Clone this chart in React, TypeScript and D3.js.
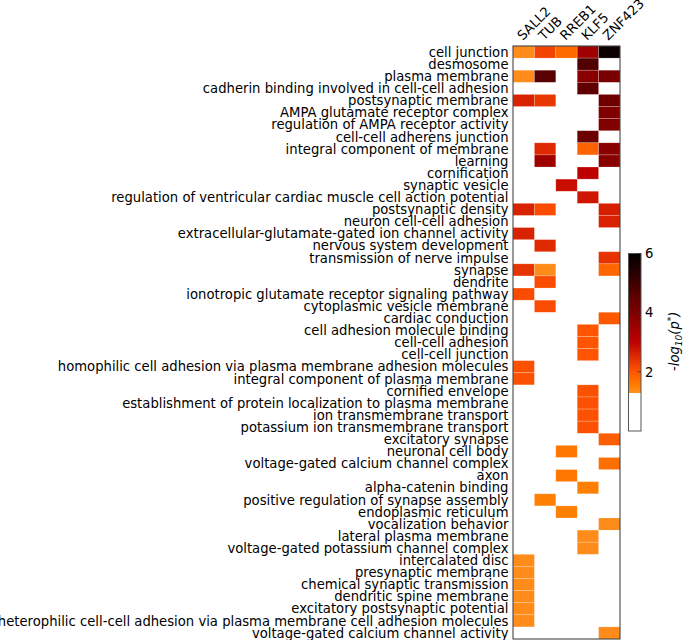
import React from "react";
import * as d3 from "d3";

const genes = ["SALL2", "TUB", "RREB1", "KLF5", "ZNF423"];

const terms = [
  "cell junction",
  "desmosome",
  "plasma membrane",
  "cadherin binding involved in cell-cell adhesion",
  "postsynaptic membrane",
  "AMPA glutamate receptor complex",
  "regulation of AMPA receptor activity",
  "cell-cell adherens junction",
  "integral component of membrane",
  "learning",
  "cornification",
  "synaptic vesicle",
  "regulation of ventricular cardiac muscle cell action potential",
  "postsynaptic density",
  "neuron cell-cell adhesion",
  "extracellular-glutamate-gated ion channel activity",
  "nervous system development",
  "transmission of nerve impulse",
  "synapse",
  "dendrite",
  "ionotropic glutamate receptor signaling pathway",
  "cytoplasmic vesicle membrane",
  "cardiac conduction",
  "cell adhesion molecule binding",
  "cell-cell adhesion",
  "cell-cell junction",
  "homophilic cell adhesion via plasma membrane adhesion molecules",
  "integral component of plasma membrane",
  "cornified envelope",
  "establishment of protein localization to plasma membrane",
  "ion transmembrane transport",
  "potassium ion transmembrane transport",
  "excitatory synapse",
  "neuronal cell body",
  "voltage-gated calcium channel complex",
  "axon",
  "alpha-catenin binding",
  "positive regulation of synapse assembly",
  "endoplasmic reticulum",
  "vocalization behavior",
  "lateral plasma membrane",
  "voltage-gated potassium channel complex",
  "intercalated disc",
  "presynaptic membrane",
  "chemical synaptic transmission",
  "dendritic spine membrane",
  "excitatory postsynaptic potential",
  "heterophilic cell-cell adhesion via plasma membrane cell adhesion molecules",
  "voltage-gated calcium channel activity",
];

// -log10(p*) per term (0 = not significant)
const sall2 = [1.35, 0, 1.35, 0, 2.6, 0, 0, 0, 0, 0, 0, 0, 0, 2.6, 0, 2.6, 0, 0, 2.4, 0, 2.1, 0, 0, 0, 0, 0, 2.05, 2.05, 0, 0, 0, 0, 0, 0, 0, 0, 0, 0, 0, 0, 0, 0, 1.35, 1.35, 1.35, 1.35, 1.35, 1.35, 0];
const tub = [2.2, 0, 4.6, 0, 2.35, 0, 0, 0, 2.5, 3.5, 0, 0, 0, 2.1, 0, 0, 2.5, 0, 1.35, 2.1, 0, 2.1, 0, 0, 0, 0, 0, 0, 0, 0, 0, 0, 0, 0, 0, 0, 0, 1.5, 0, 0, 0, 0, 0, 0, 0, 0, 0, 0, 0];
const rreb1 = [1.75, 0, 0, 0, 0, 0, 0, 0, 0, 0, 0, 2.85, 0, 0, 0, 0, 0, 0, 0, 0, 0, 0, 0, 0, 0, 0, 0, 0, 0, 0, 0, 0, 0, 1.6, 0, 1.6, 0, 0, 1.5, 0, 0, 0, 0, 0, 0, 0, 0, 0, 0];
const klf5 = [3.5, 4.75, 3.85, 4.5, 0, 0, 0, 4.3, 1.85, 0, 3.0, 0, 2.75, 0, 0, 0, 0, 0, 0, 0, 0, 0, 0, 2.0, 2.0, 2.0, 0, 0, 2.05, 2.05, 2.05, 2.05, 0, 0, 0, 0, 1.5, 0, 0, 0, 1.35, 1.35, 0, 0, 0, 0, 0, 0, 0];
const znf423 = [5.8, 0, 4.1, 0, 4.25, 4.0, 4.0, 0, 3.85, 3.85, 0, 0, 0, 2.65, 2.6, 0, 0, 2.4, 1.8, 0, 0, 0, 1.95, 0, 0, 0, 0, 0, 0, 0, 0, 0, 1.9, 0, 1.7, 0, 0, 0, 0, 1.35, 0, 0, 0, 0, 0, 0, 0, 0, 1.35];

const colorTicks = [2, 4, 6];

const series = [sall2, tub, rreb1, klf5, znf423];
const VMAX = 6;
const THRESH = 1.3;

function gistHeatR(v: number): string {
  const t = Math.max(0, Math.min(1, v / VMAX));
  const x = 1 - t;
  const r = Math.min(1, 1.5 * x);
  const g = Math.max(0, Math.min(1, 2 * x - 1));
  const b = Math.max(0, Math.min(1, 4 * x - 3));
  return d3.rgb(r * 255, g * 255, b * 255).formatHex();
}
function cellColor(v: number): string {
  return v < THRESH ? "#ffffff" : gistHeatR(v);
}

export default function App() {
  const W = 685;
  const H = 640;
  const left = 513;
  const right = 620;
  const top = 46;
  const bottom = 639;
  const FS = 13.2;
  const x = d3.scaleBand<string>().domain(genes).range([left, right]);
  const y = d3.scaleBand<string>().domain(terms).range([top, bottom]);

  const cbX0 = 628.5;
  const cbX1 = 641;
  const cy = d3.scaleLinear().domain([0, VMAX]).range([431, 253.5]);

  // gradient stops ordered from top (VMAX) to bottom (THRESH), then white
  const stops = d3.range(0, 41).map((i) => {
    const v = VMAX - ((VMAX - THRESH) * i) / 40;
    return { off: (VMAX - v) / VMAX, color: gistHeatR(v) };
  });
  const threshOff = (VMAX - THRESH) / VMAX;

  const font = "'DejaVu Sans', sans-serif";

  return (
    <svg
      width={W}
      height={H}
      style={{ position: "absolute", left: 0, top: 0, background: "#fff" }}
      fontFamily={font}
    >
      <defs>
        <linearGradient id="cbg" x1="0" y1="0" x2="0" y2="1">
          {stops.map((s, i) => (
            <stop key={i} offset={s.off} stopColor={s.color} />
          ))}
          <stop offset={threshOff} stopColor="#ffffff" />
          <stop offset={1} stopColor="#ffffff" />
        </linearGradient>
      </defs>
      <rect x={0} y={0} width={W} height={H} fill="#fff" />
      {series.map((vals, gi) =>
        vals.map((v, ti) =>
          v >= THRESH ? (
            <rect
              key={`${gi}-${ti}`}
              x={x(genes[gi])}
              y={y(terms[ti])}
              width={x.bandwidth()}
              height={y.bandwidth()}
              fill={cellColor(v)}
              stroke="#ffffff"
              strokeOpacity={0.35}
              strokeWidth={0.6}
            />
          ) : null
        )
      )}
      <rect
        x={left}
        y={top}
        width={right - left}
        height={bottom - top}
        fill="none"
        stroke="#333"
        strokeWidth={1}
      />
      {terms.map((t) => (
        <text
          key={t}
          x={left - 4.5}
          y={(y(t) as number) + y.bandwidth() / 2}
          dy="0.36em"
          textAnchor="end"
          fontSize={FS}
          fill="#000"
        >
          {t}
        </text>
      ))}
      {genes.map((g) => (
        <text
          key={g}
          transform={`translate(${(x(g) as number) + x.bandwidth() / 2 - 1},${top - 5}) rotate(-45)`}
          textAnchor="start"
          fontSize={FS}
          fill="#000"
        >
          {g}
        </text>
      ))}
      <rect
        x={cbX0}
        y={cy(VMAX)}
        width={cbX1 - cbX0}
        height={cy(0) - cy(VMAX)}
        fill="url(#cbg)"
        stroke="#555"
        strokeWidth={1}
      />
      {colorTicks.map((t) => (
        <g key={t}>
          <line x1={cbX1 - 3.5} x2={cbX1} y1={cy(t)} y2={cy(t)} stroke="#333" strokeWidth={0.8} />
          <text x={645} y={cy(t)} dy="0.36em" fontSize={FS} fill="#000">
            {t}
          </text>
        </g>
      ))}
      <text
        transform={`translate(679,${(cy(0) + cy(VMAX)) / 2 - 1}) rotate(-90)`}
        textAnchor="middle"
        fontSize={FS}
        fontStyle="italic"
        fill="#000"
      >
        -log
        <tspan fontSize={9} dy="3">10</tspan>
        <tspan dy="-3">(p</tspan>
        <tspan fontSize={9} dy="-5">*</tspan>
        <tspan dy="5">)</tspan>
      </text>
    </svg>
  );
}
